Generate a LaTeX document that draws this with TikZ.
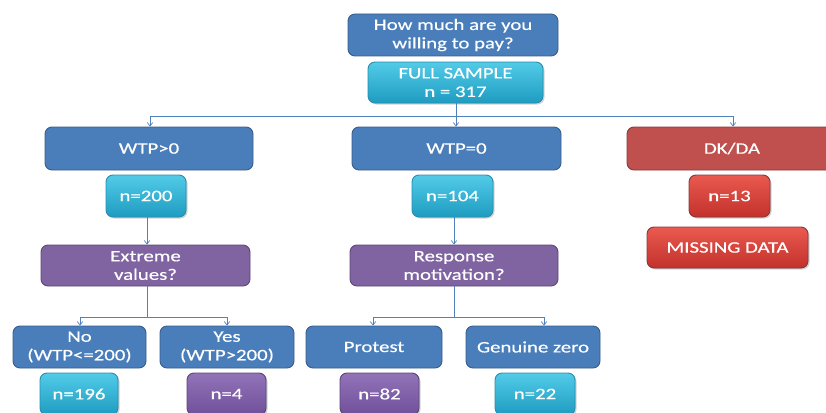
\documentclass[tikz,border=0pt]{standalone}
\usepackage{fontspec}
\setmainfont{Carlito}[FakeStretch=1.3]
\newfontfamily\boxfont{Carlito}[FakeStretch=1.3,FakeBold=0.4]
\usetikzlibrary{arrows.meta,shadows}
\definecolor{bluef}{HTML}{4A7EBB}
\definecolor{blued}{HTML}{385D8A}
\definecolor{cyant}{HTML}{52CBE8}
\definecolor{cyanb}{HTML}{1E9CC0}
\definecolor{cyand}{HTML}{2A8FAF}
\definecolor{purf}{HTML}{8064A2}
\definecolor{purd}{HTML}{5C4776}
\definecolor{redf}{HTML}{C0504D}
\definecolor{redd}{HTML}{8C3836}
\definecolor{redt}{HTML}{EA5A50}
\definecolor{redb}{HTML}{C2312B}
\definecolor{purt}{HTML}{9273B8}
\definecolor{purb}{HTML}{70509A}
\definecolor{linec}{HTML}{4F81BD}
\tikzset{
  x=1pt,y=-1pt,
  box/.style={rounded corners=7pt,draw=blued,line width=0.9pt,fill=bluef,text=white,
    align=center,inner sep=2pt,font=\boxfont\fontsize{16}{18.5}\selectfont},
  bluebox/.style={box},
  redbox/.style={box,draw=redd,fill=redf},
  purbox/.style={box,draw=purd,fill=purf},
  cyanbox/.style={box,draw=cyand,top color=cyant,bottom color=cyanb,
    drop shadow={opacity=0.35,shadow xshift=1.5pt,shadow yshift=-1.5pt}},
  brightred/.style={box,draw=redd,top color=redt,bottom color=redb,
    drop shadow={opacity=0.35,shadow xshift=1.5pt,shadow yshift=-1.5pt}},
  brightpur/.style={box,draw=purd,top color=purt,bottom color=purb,
    drop shadow={opacity=0.35,shadow xshift=1.5pt,shadow yshift=-1.5pt}},
  arr/.style={draw=linec,line width=0.7pt,-{Straight Barb[length=3.5pt,width=5.5pt]}},
  ln/.style={draw=linec,line width=0.7pt},
}
\begin{document}
\begin{tikzpicture}
\useasboundingbox (0,0) rectangle (826,412);
\node[bluebox,minimum width=210pt,minimum height=42pt] (q) at (453,35) {How much are you\\willing to pay?};
\node[cyanbox,minimum width=175pt,minimum height=41pt] (full) at (455.5,82.5) {FULL SAMPLE\\n = 317};
\node[bluebox,minimum width=208pt,minimum height=43pt] (wpos) at (149,148.5) {WTP>0};
\node[bluebox,minimum width=209pt,minimum height=43pt] (wzero) at (456.5,148.5) {WTP=0};
\node[redbox,minimum width=210pt,minimum height=43pt] (dk) at (732,148.5) {DK/DA};
\node[cyanbox,minimum width=80pt,minimum height=42pt] (n200) at (146,196) {n=200};
\node[cyanbox,minimum width=81pt,minimum height=42pt] (n104) at (452.5,196) {n=104};
\node[brightred,minimum width=81pt,minimum height=42pt] (n13) at (729.5,196) {n=13};
\node[brightred,minimum width=161pt,minimum height=41pt] (miss) at (727.5,247.5) {MISSING DATA};
\node[purbox,minimum width=209pt,minimum height=41pt] (ext) at (145.5,265.5) {Extreme\\values?};
\node[purbox,minimum width=208pt,minimum height=41pt] (resp) at (454,265.5) {Response\\motivation?};
\node[bluebox,minimum width=133pt,minimum height=42pt] (no) at (79.5,347) {No\\(WTP<=200)};
\node[bluebox,minimum width=134pt,minimum height=42pt] (yes) at (227,347) {Yes\\(WTP>200)};
\node[bluebox,minimum width=136pt,minimum height=42pt] (prot) at (374,347) {Protest};
\node[bluebox,minimum width=134pt,minimum height=42pt] (gen) at (533,347) {Genuine zero};
\node[cyanbox,minimum width=78pt,minimum height=42pt] (n196) at (79,394) {n=196};
\node[brightpur,minimum width=79pt,minimum height=42pt] (n4) at (226.5,394) {n=4};
\node[brightpur,minimum width=79pt,minimum height=42pt] (n82) at (379.5,394) {n=82};
\node[cyanbox,minimum width=80pt,minimum height=42pt] (n22) at (535,394) {n=22};
% connectors
\coordinate (j1) at (456,116);
\coordinate (j2) at (147,317);
\coordinate (j3) at (454,317);
\draw[ln] (full.south -| j1) -- (j1);
\draw[arr] (j1) -| (wpos.north -| 150,0);
\draw[arr] (j1) -- (j1 |- wzero.north);
\draw[arr] (j1) -| (dk.north -| 733,0);
\draw[arr] (n200.south -| j2) -- (j2 |- ext.north);
\draw[arr] (n104.south -| j3) -- (j3 |- resp.north);
\draw[ln] (ext.south -| j2) -- (j2);
\draw[arr] (j2) -| (no.north -| 80,0);
\draw[arr] (j2) -| (yes.north -| 227,0);
\draw[ln] (resp.south -| j3) -- (j3);
\draw[arr] (j3) -| (prot.north -| 373,0);
\draw[arr] (j3) -| (gen.north -| 544,0);
\end{tikzpicture}
\end{document}
